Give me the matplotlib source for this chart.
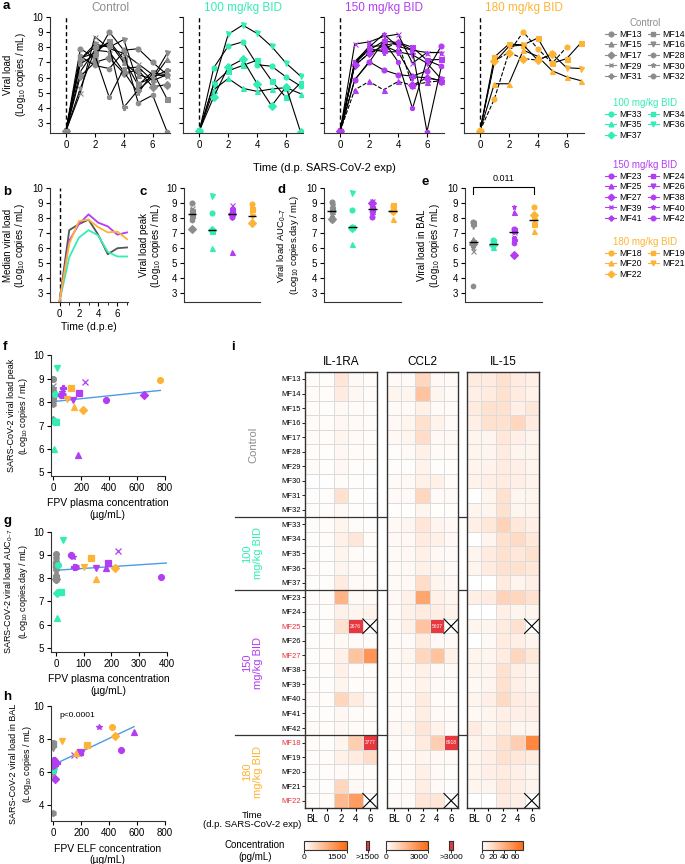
import numpy as np
import matplotlib.pyplot as plt
from matplotlib.colors import LinearSegmentedColormap, Normalize
from matplotlib.cm import ScalarMappable
from matplotlib.lines import Line2D

plt.rcParams['font.family'] = ['Liberation Sans', 'DejaVu Sans']
plt.rcParams['mathtext.fontset'] = 'custom'
plt.rcParams['mathtext.rm'] = 'Liberation Sans'
plt.rcParams['font.size'] = 7
plt.rcParams['axes.linewidth'] = 0.8
plt.rcParams['axes.edgecolor'] = '#333333'
plt.rcParams['xtick.major.size'] = 3
plt.rcParams['ytick.major.size'] = 3
plt.rcParams['xtick.major.pad'] = 2
plt.rcParams['ytick.major.pad'] = 2

# ---------------- data ----------------
days = [0, 1, 2, 3, 4, 5, 6, 7]
nan = np.nan

group_names = ['Control', '100 mg/kg BID', '150 mg/kg BID', '180 mg/kg BID']
group_colors = ['#8C8C8C', '#33EDB5', '#B23DF2', '#FDB434']
median_colors = ['#555555', '#33EDB5', '#B23DF2', '#FDB434']
markers = ['o', 's', '^', 'v', 'D', 'h', 'x', '*', 'P', '8']
dashed_ids = ['MF25', 'MF27', 'MF18', 'MF22']

ctrl_ids = ['MF13', 'MF14', 'MF15', 'MF16', 'MF17', 'MF28', 'MF29', 'MF30', 'MF31', 'MF32']
d100_ids = ['MF33', 'MF34', 'MF35', 'MF36', 'MF37']
d150_ids = ['MF23', 'MF24', 'MF25', 'MF26', 'MF27', 'MF38', 'MF39', 'MF40', 'MF41', 'MF42']
d180_ids = ['MF18', 'MF19', 'MF20', 'MF21', 'MF22']

# viral load per animal, days 0-7 (log10 copies/mL)
ctrl_vl = [[2.5, 7.9, 7.3, 9.0, 7.8, 7.9, 7.0, 6.2],
           [2.5, 7.3, 7.6, 8.4, 7.2, 5.5, 6.4, 4.6],
           [2.5, 6.4, 7.8, 8.3, 7.0, 6.2, 5.9, 7.2],
           [2.5, 7.2, 8.2, 8.0, 8.5, 5.6, 6.0, 7.6],
           [2.5, 6.1, 7.0, 7.3, 6.3, 6.5, 5.4, 5.55],
           [2.5, 7.4, 6.8, 6.6, 7.7, 4.35, 4.85, 2.45],
           [2.5, 5.0, 8.7, 7.9, 7.6, 6.9, 6.2, 6.1],
           [2.5, 5.3, 7.8, 7.7, 6.4, 5.0, 6.3, 6.2],
           [2.5, 7.2, 8.0, 8.1, 4.05, 5.2, 6.0, 6.5],
           [2.5, 6.9, 7.5, 4.7, 6.6, 6.7, 5.8, 6.2]]
d100_vl = [[2.5, 6.65, 8.07, 8.35, 6.85, 6.75, 6.05, 5.45],
           [2.5, 5.6, 6.45, 6.8, 7.15, 5.8, 4.7, 5.65],
           [2.5, 5.2, 5.95, 5.3, 5.1, 5.25, 5.35, 4.95],
           [2.5, 5.6, 8.85, 9.45, 8.9, 8.05, 6.95, 6.1],
           [2.5, 4.75, 6.7, 7.2, 5.6, 4.15, 5.4, 2.45]]
d150_vl = [[2.5, 5.85, 7.05, 6.5, 6.2, 6.1, 6.45, 8.1],
           [2.5, 7.0, 7.8, 8.4, 8.3, 8.0, 7.15, 7.2],
           [2.5, 5.2, 5.75, 5.2, 5.75, 5.5, 5.7, 5.8],
           [2.5, 6.95, 8.05, 8.1, 7.7, 7.5, 6.95, 5.9],
           [2.5, 6.8, 7.6, 7.9, 8.3, 5.5, 6.0, 5.8],
           [2.5, 6.8, 7.6, 8.1, 8.3, 7.8, 2.45, 6.75],
           [2.5, 8.2, 8.35, 8.7, 8.85, 6.95, 7.65, 7.65],
           [2.5, 7.05, 8.0, 8.85, 8.05, 7.8, 7.65, 7.65],
           [2.5, 6.9, 7.9, 7.7, 7.7, 6.05, 6.0, 5.8],
           [2.5, 5.85, 7.0, 8.4, 7.05, 3.98, 7.15, 6.75]]
d180_vl = [[2.5, 4.6, 7.65, 9.0, 7.9, 6.95, 8.0, nan],
           [2.5, 7.35, 8.2, 8.15, 8.6, 6.95, 7.25, 8.3],
           [2.5, 5.6, 5.6, 7.8, 7.4, 6.45, 6.05, 5.8],
           [2.5, 7.0, 8.05, 8.15, 7.15, 7.55, 6.65, 6.6],
           [2.5, 7.1, 7.65, 7.25, 7.15, 7.55, nan, nan]]

# median viral load per group (panel b)
ctrl_median = [2.5, 7.2, 7.6, 7.9, 6.9, 5.6, 6.0, 6.05]
d100_median = [2.5, 5.4, 6.7, 7.2, 6.85, 5.75, 5.45, 5.45]
d150_median = [2.5, 6.5, 7.6, 8.25, 7.7, 7.45, 6.9, 7.05]
d180_median = [2.5, 6.3, 7.8, 7.9, 7.4, 7.05, 7.1, 6.6]

# peak, AUC0-7, BAL viral load per animal
ctrl_peak = [9.0, 8.4, 8.3, 8.5, 7.25, 7.9, 8.7, 8.0, 8.1, 8.2]
d100_peak = [8.35, 7.15, 6.0, 9.45, 7.2]
d150_peak = [8.1, 8.4, 5.75, 8.1, 8.3, 8.3, 8.85, 8.45, 8.6, 8.3]
d180_peak = [8.95, 8.6, 7.8, 8.15, 7.65]

ctrl_auc = [9.05, 8.6, 8.5, 8.8, 7.95, 7.9, 8.7, 8.3, 8.5, 8.1]
d100_auc = [8.55, 7.4, 6.3, 9.65, 7.35]
d150_auc = [8.05, 8.65, 8.45, 8.45, 9.0, 8.5, 9.15, 8.9, 8.5, 9.0]
d180_auc = [8.8, 8.85, 7.95, 8.5, 8.45]

ctrl_bal = [7.75, 7.7, 6.6, 7.45, 6.3, 3.5, 5.8, 6.0, 6.45, 6.35]
d100_bal = [6.55, 6.45, 6.1, 6.3, 6.2]
d150_bal = [7.3, 7.2, 8.4, 7.15, 5.55, 6.35, 7.05, 8.75, 6.55, 6.7]
d180_bal = [8.75, 7.6, 7.15, 7.85, 8.2]

# FPV concentrations (ug/mL)
ctrl_plasma = [0, 0, 0, 0, 0, 0, 0, 0, 0, 0]
d100_plasma = [8, 18, 2, 27, 5]
d150_plasma = [380, 187, 180, 144, 650, 72, 225, 60, 66, 53]
d180_plasma = [770, 125, 145, 100, 215]

ctrl_elf = [0, 0, 0, 0, 0, 0, 0, 0, 0, 0]
d100_elf = [0, 0, 0, 0, 0]
d150_elf = [490, 193, 580, 195, 10, 0, 150, 330, 25, 5]
d180_elf = [420, 240, 160, 60, 440]

# cytokines (pg/mL), columns BL, 0, 2, 4, 6 ; rows in heatmap order
time_labels = ['BL', '0', '2', '4', '6']
cytokines = ['IL-1RA', 'CCL2', 'IL-15']
cyto_vmax = [1500, 3000, 75]
il1ra = [[30, 20, 250, 60, 30], [40, 30, 200, 80, 40], [30, 20, 60, 40, 20],
         [40, 30, 80, 50, 30], [40, 30, 100, 50, 30], [30, 20, 80, 40, 30],
         [40, 20, 80, 30, 20], [10, 10, 40, 20, 10], [20, 20, 300, 20, 10],
         [20, 20, 60, 20, 10],
         [40, 30, 100, 40, 20], [20, 20, 150, 250, 30], [20, 20, 100, 40, 20],
         [30, 20, 100, 50, 30], [20, 20, 200, 50, 40],
         [30, 30, 750, 60, 40], [20, 20, 150, 100, 120], [30, 20, 300, 2676, nan],
         [20, 20, 60, 50, 30], [30, 30, 150, 600, 1050], [20, 20, 150, 40, 30],
         [20, 20, 100, 30, 20], [40, 30, 400, 200, 60], [20, 20, 80, 40, 30],
         [50, 30, 80, 40, 30],
         [30, 20, 100, 500, 3777], [30, 30, 150, 200, 350], [20, 20, 50, 40, 30],
         [20, 20, 400, 60, 30], [30, 30, 700, 1000, nan]]
ccl2 = [[100, 100, 800, 150, 100], [200, 200, 1200, 200, 100], [100, 100, 300, 100, 80],
        [150, 200, 600, 250, 100], [150, 200, 700, 150, 150], [50, 100, 300, 100, 80],
        [50, 50, 250, 50, 30], [100, 150, 300, 300, 80], [100, 100, 800, 100, 100],
        [30, 30, 200, 30, 30],
        [150, 200, 500, 200, 150], [150, 150, 400, 300, 150], [100, 150, 300, 150, 100],
        [100, 150, 300, 200, 100], [100, 150, 700, 200, 150],
        [150, 300, 1800, 300, 200], [100, 300, 400, 350, 250], [100, 300, 1200, 5607, nan],
        [80, 100, 400, 150, 100], [100, 200, 800, 1200, 300], [100, 150, 300, 150, 100],
        [80, 100, 250, 100, 50], [100, 150, 400, 80, 60], [80, 100, 350, 100, 80],
        [150, 200, 500, 250, 100],
        [100, 100, 400, 1000, 6918], [80, 100, 200, 150, 100], [50, 80, 300, 100, 50],
        [50, 100, 350, 100, 50], [100, 100, 500, 500, nan]]
il15 = [[10, 10, 15, 10, 8], [8, 10, 15, 10, 7], [10, 15, 15, 8, 12],
        [8, 15, 15, 20, 10], [5, 5, 12, 8, 5], [5, 5, 10, 5, 5],
        [5, 6, 10, 8, 5], [6, 8, 10, 8, 6], [0, 5, 15, 5, 5],
        [5, 5, 15, 5, 5],
        [8, 12, 22, 12, 8], [0, 5, 15, 18, 12], [5, 10, 15, 12, 15],
        [5, 10, 15, 15, 12], [0, 0, 10, 5, 8],
        [8, 10, 22, 20, 15], [0, 0, 8, 5, 5], [5, 5, 10, 15, nan],
        [0, 3, 10, 8, 5], [5, 5, 10, 20, 12], [5, 5, 15, 8, 5],
        [3, 5, 15, 8, 5], [5, 8, 18, 10, 8], [3, 5, 8, 8, 8],
        [10, 5, 10, 5, 5],
        [5, 8, 15, 25, 60], [5, 8, 15, 12, 10], [5, 8, 10, 8, 5],
        [5, 5, 12, 8, 5], [0, 0, 10, 8, nan]]

# ---------------- figure ----------------
W, H = 685, 864
fig = plt.figure(figsize=(W / 100, H / 100), dpi=100)


def px_axes(l, t, r, b):
    return fig.add_axes([l / W, 1 - b / H, (r - l) / W, (b - t) / H])


def clean(ax):
    ax.spines['top'].set_visible(False)
    ax.spines['right'].set_visible(False)
    ax.tick_params(labelsize=7, width=0.8)


def letter(x, y, s):
    fig.text(x / W, 1 - y / H, s, fontsize=9.5, fontweight='bold', ha='left', va='center')


def ylabel(ax, text, xfrac, ls=1.05, size=7):
    ax.set_ylabel(text, fontsize=size, linespacing=ls)
    ax.yaxis.set_label_coords(xfrac, 0.5)


all_ids = [ctrl_ids, d100_ids, d150_ids, d180_ids]
all_vl = [ctrl_vl, d100_vl, d150_vl, d180_vl]
all_median = [ctrl_median, d100_median, d150_median, d180_median]
all_peak = [ctrl_peak, d100_peak, d150_peak, d180_peak]
all_auc = [ctrl_auc, d100_auc, d150_auc, d180_auc]
all_bal = [ctrl_bal, d100_bal, d150_bal, d180_bal]
all_plasma = [ctrl_plasma, d100_plasma, d150_plasma, d180_plasma]
all_elf = [ctrl_elf, d100_elf, d150_elf, d180_elf]

ylab = '(Log$_{10}$ copies / mL)'
ylab_day = '(Log$_{10}$ copies.day / mL)'

# ---- panel a ----
a_lefts = [50, 183.4, 324.3, 464]
for k in range(4):
    ax = px_axes(a_lefts[k], 16.7, a_lefts[k] + 120, 133.3)
    col = group_colors[k]
    ax.axvline(0, color='k', ls=(0, (3, 2)), lw=1, zorder=1)
    for i, (mid, row) in enumerate(zip(all_ids[k], all_vl[k])):
        ls = '--' if mid in dashed_ids else '-'
        ax.plot(days, row, color='k', lw=0.8, ls=ls, marker=markers[i], ms=3.6,
                mfc=col, mec=col, mew=0.8, zorder=2)
    ax.set_xlim(-1.1, 7.2)
    ax.set_ylim(2.35, 10)
    ax.set_xticks([0, 2, 4, 6])
    ax.set_yticks(range(3, 11))
    if k > 0:
        ax.set_yticklabels([])
    else:
        ylabel(ax, 'Viral load\n' + ylab, -0.185)
    ax.set_title(group_names[k], color=col, fontsize=8.5, pad=4)
    clean(ax)
fig.text(324 / W, 1 - 168 / H, 'Time (d.p. SARS-CoV-2 exp)', fontsize=8, ha='center', va='center')
letter(3, 6, 'a')

# legend
leg_tops = [13, 93, 155, 232]
for k in range(4):
    col = group_colors[k]
    hs = [Line2D([0], [0], color=col, marker=markers[i], ms=3.4, lw=0.8, mfc=col, mec=col)
          for i in range(len(all_ids[k]))]
    labs = list(all_ids[k])
    hs = hs[0::2] + hs[1::2]
    labs = labs[0::2] + labs[1::2]
    lg = fig.legend(hs, labs, loc='upper center', bbox_to_anchor=(645 / W, 1 - leg_tops[k] / H),
                    ncol=2, frameon=False, fontsize=6.3, title=group_names[k], title_fontsize=7,
                    handlelength=1.2, handletextpad=0.4, columnspacing=0.7, labelspacing=0.18,
                    borderpad=0.1)
    lg.get_title().set_color(col)

# ---- panel b ----
ax = px_axes(50, 188, 128, 302.4)
ax.axvline(0, color='k', ls=(0, (3, 2)), lw=1, zorder=1)
for k in range(4):
    ax.plot(days, all_median[k], color=median_colors[k], lw=1.3)
ax.set_xlim(-1, 7.1)
ax.set_ylim(2.4, 10)
ax.set_xticks([0, 2, 4, 6])
ax.set_xticks(range(0, 8), minor=True)
ax.set_yticks(range(3, 11))
ax.set_xlabel('Time (d.p.e)', fontsize=7.5, labelpad=2)
ylabel(ax, 'Median viral load\n' + ylab, -0.29)
clean(ax)
letter(3, 192, 'b')

# ---- panels c, d, e ----
def group_scatter(ax, data):
    for k in range(4):
        col = group_colors[k]
        for i, v in enumerate(data[k]):
            ax.plot(k, v, ls='none', marker=markers[i], ms=3.6, mfc=col, mec=col, mew=0.8)
        ax.hlines(np.median(data[k]), k - 0.22, k + 0.22, color='k', lw=1, zorder=5)
    ax.set_xlim(-0.4, 3.4)
    ax.set_ylim(2.4, 10)
    ax.set_xticks([])
    ax.set_yticks(range(3, 11))
    clean(ax)


ax = px_axes(184, 188, 260, 302.4)
group_scatter(ax, all_peak)
ylabel(ax, 'Viral load peak\n' + ylab, -0.27)
letter(140, 192, 'c')

ax = px_axes(323.7, 188, 400.7, 302.4)
group_scatter(ax, all_auc)
ylabel(ax, 'Viral load AUC$_{0\u20137}$\n' + ylab_day, -0.29, size=6.8)
letter(277, 190, 'd')

ax = px_axes(465, 188, 542, 302.4)
group_scatter(ax, all_bal)
ylabel(ax, 'Viral load in BAL\n' + ylab, -0.3)
ax.plot([0, 0, 3, 3], [9.6, 10.05, 10.05, 9.6], color='k', lw=0.8, clip_on=False)
ax.text(1.5, 10.3, '0.011', ha='center', va='bottom', fontsize=6.5)
letter(421, 182, 'e')

# ---- panels f, g, h ----
def conc_scatter(ax, xs, ys, fit_color='#4C9BE6'):
    for k in range(4):
        col = group_colors[k]
        for i, (x, y) in enumerate(zip(xs[k], ys[k])):
            ax.plot(x, y, ls='none', marker=markers[i], ms=4.2, mfc=col, mec=col, mew=0.9)
    allx = np.concatenate([np.asarray(v, float) for v in xs])
    ally = np.concatenate([np.asarray(v, float) for v in ys])
    sl, ic = np.polyfit(allx, ally, 1)
    xx = np.array([allx.min(), allx.max()])
    ax.plot(xx, sl * xx + ic, color=fit_color, lw=1, zorder=1)
    clean(ax)


ax = px_axes(50.7, 355.2, 164.5, 476)
conc_scatter(ax, all_plasma, all_peak)
ax.set_xlim(-20, 800)
ax.set_ylim(4.85, 10)
ax.set_xticks([0, 200, 400, 600, 800])
ax.set_yticks(range(5, 11))
ax.set_xlabel('FPV plasma concentration\n(\u00b5g/mL)', fontsize=7.5, labelpad=4)
ylabel(ax, 'SARS-CoV-2 viral load peak\n' + ylab, -0.18, 1.15, 6.5)
letter(3, 347, 'f')

ax = px_axes(50.7, 531.7, 166.7, 651.7)
conc_scatter(ax, all_plasma, all_auc)
ax.set_xlim(-19, 400)
ax.set_ylim(4.83, 10)
ax.set_xticks([0, 100, 200, 300, 400])
ax.set_yticks(range(5, 11))
ax.set_xlabel('FPV plasma concentration\n(\u00b5g/mL)', fontsize=7.5, labelpad=4)
ylabel(ax, 'SARS-CoV-2 viral load AUC$_{0\u20137}$\n' + ylab_day, -0.18, 1.15, 6.5)
letter(3, 521, 'g')

ax = px_axes(50.7, 706, 164.5, 821.2)
conc_scatter(ax, all_elf, all_bal)
ax.set_xlim(-20, 800)
ax.set_ylim(3, 10)
ax.set_xticks([0, 200, 400, 600, 800])
ax.set_yticks([4, 6, 8, 10])
ax.set_xlabel('FPV ELF concentration\n(\u00b5g/mL)', fontsize=7.5, labelpad=4)
ylabel(ax, 'SARS-CoV-2 viral load in BAL\n' + ylab, -0.15, 1.3, 6.5)
ax.text(175, 9.45, 'p<0.0001', fontsize=6, ha='center', va='center')
letter(3, 697, 'h')

# ---- panel i: heatmaps ----
cmap = LinearSegmentedColormap.from_list('wo', ['#FFFFFF', '#FF6A10'])
cmap.set_over('#E8383F')
cmap.set_bad('white')

row_ids = ctrl_ids + d100_ids + d150_ids + d180_ids
group_sizes = [len(v) for v in all_ids]
bounds = np.cumsum(group_sizes)
hm_data = [il1ra, ccl2, il15]
hm_x = [(305, 377.3), (386.7, 458.3), (466.7, 539)]
n_rows = len(row_ids)

for c in range(3):
    ax = px_axes(hm_x[c][0], 371.7, hm_x[c][1], 808)
    arr = np.array(hm_data[c], float)
    ax.pcolormesh(np.arange(6), np.arange(n_rows + 1), np.ma.masked_invalid(arr), cmap=cmap,
                  vmin=0, vmax=cyto_vmax[c], edgecolors='#DCDCDC', linewidth=0.6)
    ax.set_xlim(0, 5)
    ax.set_ylim(n_rows, 0)
    for r in range(n_rows):
        for j in range(5):
            v = arr[r, j]
            if np.isnan(v):
                ax.plot([j, j + 1], [r, r + 1], color='k', lw=0.8)
                ax.plot([j, j + 1], [r + 1, r], color='k', lw=0.8)
            elif v > cyto_vmax[c]:
                ax.text(j + 0.5, r + 0.5, str(int(v)), color='white', fontsize=3.5,
                        ha='center', va='center')
    ax.set_xticks(np.arange(5) + 0.5)
    ax.set_xticklabels(time_labels, fontsize=7)
    ax.tick_params(axis='x', length=2.5, width=0.8)
    ax.set_title(cytokines[c], fontsize=8.5, pad=5)
    for s in ax.spines.values():
        s.set_linewidth(1)
        s.set_color('#333333')
    if c == 0:
        ax.set_yticks(np.arange(n_rows) + 0.5)
        ax.set_yticklabels(row_ids, fontsize=5.5)
        ax.tick_params(axis='y', length=2, width=0.6, pad=1)
        for t, mid in zip(ax.get_yticklabels(), row_ids):
            if mid in dashed_ids:
                t.set_color('#E8323C')
        tr = ax.get_yaxis_transform()
        for yb in bounds[:-1]:
            ax.plot([-0.97, 3.237], [yb, yb], transform=tr, color='#333333', lw=0.9, clip_on=False)
        starts = np.concatenate([[0], bounds[:-1]])
        for k in range(4):
            lab = group_names[k].replace(' mg', '\nmg')
            ax.text(-0.72, (starts[k] + bounds[k]) / 2, lab, transform=tr, rotation=90,
                    ha='center', va='center', color=group_colors[k], fontsize=8,
                    multialignment='center', linespacing=1.1)
    else:
        ax.set_yticks([])

letter(231, 347, 'i')
fig.text(301 / W, 1 - 820 / H, 'Time\n(d.p. SARS-CoV-2 exp)', fontsize=6.8, ha='right', va='center',
         multialignment='center', linespacing=1.1)
fig.text(255 / W, 1 - 851 / H, 'Concentration\n(pg/mL)', fontsize=7, ha='center', va='center',
         linespacing=1.2)

# colorbars
cb_x = [(304, 346.7), (386, 428.3), (482.3, 523.3)]
over_x = [(365.7, 369.3), (449.3, 453.3), None]
cb_ticks = [[0, 1500], [0, 3000], [0, 20, 40, 60]]
for c in range(3):
    cax = px_axes(cb_x[c][0], 840.7, cb_x[c][1], 850)
    cb = fig.colorbar(ScalarMappable(Normalize(0, cyto_vmax[c]), cmap), cax=cax,
                      orientation='horizontal', ticks=cb_ticks[c])
    cb.ax.tick_params(labelsize=6, length=2, width=0.6, pad=1)
    cb.outline.set_linewidth(0.8)
    if over_x[c] is not None:
        cb.ax.get_xticklabels()[-1].set_horizontalalignment('right')
        oax = px_axes(over_x[c][0], 840.7, over_x[c][1], 850)
        oax.set_facecolor('#E8383F')
        oax.set_yticks([])
        oax.set_xticks([0.5])
        oax.set_xlim(0, 1)
        oax.set_xticklabels(['>%d' % cyto_vmax[c]], fontsize=6)
        oax.tick_params(axis='x', length=2, width=0.6, pad=1)

fig.savefig('out.png', dpi=100)
